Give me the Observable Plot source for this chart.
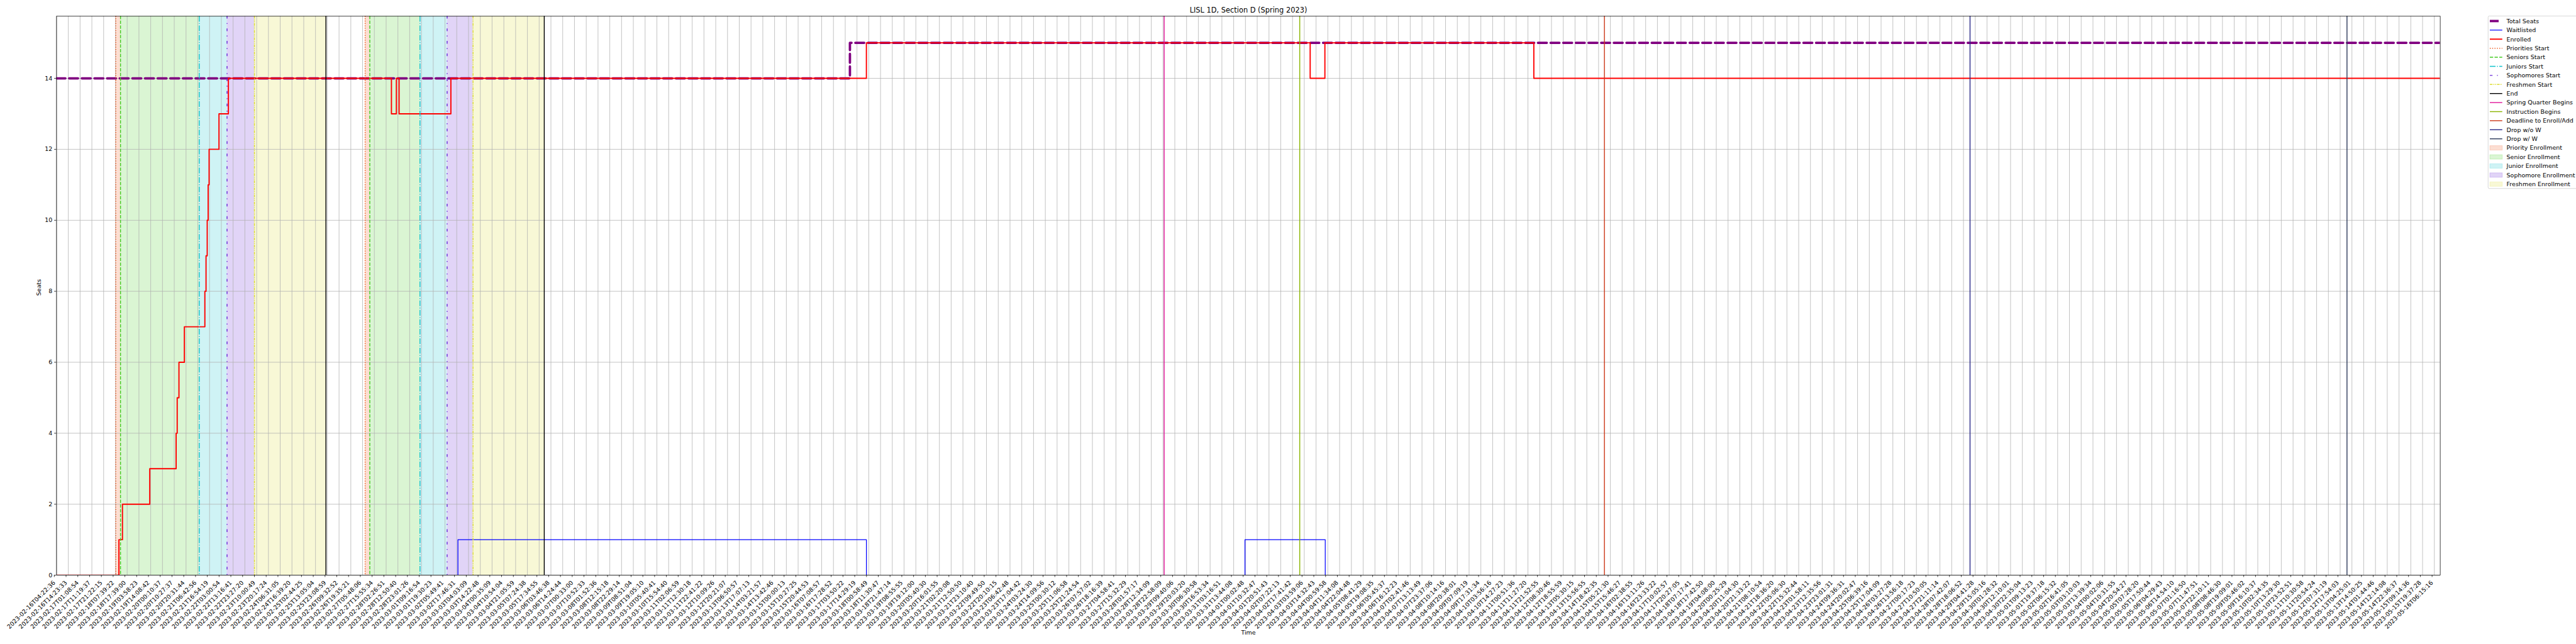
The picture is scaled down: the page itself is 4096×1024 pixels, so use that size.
<!DOCTYPE html>
<html><head><meta charset="utf-8">
<script src="https://cdn.jsdelivr.net/npm/d3@7"></script>
<script src="https://cdn.jsdelivr.net/npm/@observablehq/plot@0.6"></script>
<style>
html,body{margin:0;padding:0;background:#fff;}
#chart{position:relative;width:4096px;height:1024px;overflow:hidden;}
</style></head><body><div id="chart"></div>
<script>
// ---------- DATA ----------
const tickLabels = [
"2023-02-16T04:22:36","2023-02-16T14:23:33","2023-02-17T01:08:54","2023-02-17T11:19:37","2023-02-17T21:22:15",
"2023-02-18T07:39:22","2023-02-18T17:39:00","2023-02-19T03:58:23","2023-02-19T14:08:42","2023-02-20T00:10:37",
"2023-02-20T10:27:37","2023-02-20T20:31:44","2023-02-21T06:42:56","2023-02-21T16:54:19","2023-02-22T03:00:54",
"2023-02-22T13:16:41","2023-02-22T23:27:20","2023-02-23T10:00:49","2023-02-23T20:17:24","2023-02-24T06:31:05",
"2023-02-24T16:39:20","2023-02-25T02:44:25","2023-02-25T13:05:04","2023-02-25T23:08:59","2023-02-26T09:32:52",
"2023-02-26T19:35:21","2023-02-27T05:48:06","2023-02-27T15:55:34","2023-02-28T02:26:51","2023-02-28T12:50:40",
"2023-02-28T23:01:26","2023-03-01T09:16:54","2023-03-01T19:30:23","2023-03-02T05:49:41","2023-03-02T17:46:31",
"2023-03-03T04:03:09","2023-03-03T14:22:48","2023-03-04T00:35:09","2023-03-04T10:54:04","2023-03-04T21:05:59",
"2023-03-05T07:24:38","2023-03-05T17:34:55","2023-03-06T03:46:38","2023-03-06T14:24:44","2023-03-07T00:33:00",
"2023-03-07T10:52:33","2023-03-08T01:52:36","2023-03-08T12:15:18","2023-03-08T22:29:14","2023-03-09T08:51:04",
"2023-03-09T19:05:10","2023-03-10T05:40:41","2023-03-10T15:54:40","2023-03-11T02:06:59","2023-03-11T12:30:18",
"2023-03-11T22:41:22","2023-03-12T10:09:26","2023-03-12T20:21:07","2023-03-13T06:50:57","2023-03-13T17:07:13",
"2023-03-14T03:21:57","2023-03-14T13:42:46","2023-03-15T00:00:13","2023-03-15T10:27:25","2023-03-15T20:44:53",
"2023-03-16T07:08:57","2023-03-16T17:28:52","2023-03-17T03:50:22","2023-03-17T14:29:19","2023-03-18T00:58:49",
"2023-03-18T11:30:47","2023-03-18T21:47:14","2023-03-19T08:55:55","2023-03-19T19:12:00","2023-03-20T05:40:30",
"2023-03-20T16:01:55","2023-03-21T02:20:08","2023-03-21T12:50:50","2023-03-21T23:10:40","2023-03-22T09:49:50",
"2023-03-22T20:10:15","2023-03-23T06:42:48","2023-03-23T17:04:42","2023-03-24T03:24:30","2023-03-24T14:09:56",
"2023-03-25T00:30:12","2023-03-25T11:06:58","2023-03-25T21:24:54","2023-03-26T07:57:02","2023-03-26T18:16:39",
"2023-03-27T04:58:41","2023-03-27T15:32:29","2023-03-28T01:57:17","2023-03-28T12:34:09","2023-03-28T22:58:09",
"2023-03-29T09:40:06","2023-03-29T20:03:20","2023-03-30T06:30:58","2023-03-30T16:53:34","2023-03-31T03:16:51",
"2023-03-31T13:44:08","2023-04-01T00:02:48","2023-04-01T10:32:47","2023-04-01T20:51:43","2023-04-02T07:22:13",
"2023-04-02T17:41:42","2023-04-03T03:59:06","2023-04-03T14:32:43","2023-04-04T00:59:58","2023-04-04T11:34:08",
"2023-04-04T22:04:48","2023-04-05T08:41:29","2023-04-05T19:08:35","2023-04-06T05:45:37","2023-04-06T16:12:23",
"2023-04-07T02:41:46","2023-04-07T13:13:49","2023-04-07T23:37:06","2023-04-08T10:14:16","2023-04-08T20:38:01",
"2023-04-09T07:09:19","2023-04-09T17:31:34","2023-04-10T03:56:16","2023-04-10T14:27:23","2023-04-11T00:51:36",
"2023-04-11T11:27:20","2023-04-11T21:52:55","2023-04-12T08:30:46","2023-04-12T18:55:59","2023-04-13T05:30:15",
"2023-04-13T15:56:55","2023-04-14T18:42:35","2023-04-15T05:21:30","2023-04-15T15:46:27","2023-04-16T02:38:55",
"2023-04-16T13:11:26","2023-04-16T23:33:22","2023-04-17T10:02:57","2023-04-17T20:27:05","2023-04-18T07:17:41",
"2023-04-18T17:42:50","2023-04-19T04:08:00","2023-04-20T00:25:29","2023-04-20T11:04:30","2023-04-20T21:33:22",
"2023-04-21T08:10:54","2023-04-21T18:36:20","2023-04-22T05:06:30","2023-04-22T15:32:44","2023-04-23T01:58:11",
"2023-04-23T12:35:56","2023-04-23T23:01:31","2023-04-24T09:36:31","2023-04-24T20:02:47","2023-04-25T06:39:16",
"2023-04-25T17:04:09","2023-04-26T03:27:28","2023-04-26T13:56:18","2023-04-27T00:17:23","2023-04-27T10:50:05",
"2023-04-27T21:11:14","2023-04-28T07:42:07","2023-04-28T18:06:52","2023-04-29T04:41:28","2023-04-29T15:05:16",
"2023-04-30T01:28:32","2023-04-30T12:10:01","2023-04-30T22:35:04","2023-05-01T09:13:23","2023-05-01T19:37:18",
"2023-05-02T06:15:32","2023-05-02T16:41:05","2023-05-03T03:10:03","2023-05-03T13:39:34","2023-05-04T00:02:06",
"2023-05-04T10:31:55","2023-05-04T20:54:27","2023-05-05T07:28:20","2023-05-05T17:50:44","2023-05-06T04:29:43",
"2023-05-06T14:54:10","2023-05-07T01:16:50","2023-05-07T11:47:51","2023-05-07T22:10:11","2023-05-08T08:46:30",
"2023-05-08T19:09:01","2023-05-09T05:46:02","2023-05-09T16:10:37","2023-05-10T02:34:35","2023-05-10T13:29:30",
"2023-05-10T23:52:51","2023-05-11T10:30:58","2023-05-11T20:54:24","2023-05-12T07:31:19","2023-05-12T17:54:03",
"2023-05-13T04:25:01","2023-05-13T14:50:25","2023-05-14T01:44:46","2023-05-14T12:14:08","2023-05-14T22:36:37",
"2023-05-15T09:14:36","2023-05-15T19:37:28","2023-05-16T06:15:16"
];
const lastSample = 202.5;           // position of the final sample, in tick-index units
const yTicks = [0, 2, 4, 6, 8, 10, 12, 14];
const yMax = 15.75;

// step series: [sample position (tick-index units), value]
const totalSeats = [[0,14],[67.4,15],[202.5,15]];
const waitlisted = [[0,0],[34.1,1],[68.8,0],[100.96,1],[107.78,0],[202.5,0]];
const enrolled = [[0,0],[5.3,1],[5.6,2],[7.92,3],[10.16,4],[10.25,5],[10.4,6],[10.86,7],
  [12.6,8],[12.7,9],[12.8,10],[12.88,11],[12.96,12],[13.8,13],[14.6,14],
  [28.45,13],[28.87,14],[29.1,13],[33.5,14],[68.8,15],[106.5,14],[107.75,15],[125.5,14],[202.5,14]];

// enrollment windows (two passes)
const windowNames = ["Priority","Senior","Junior","Sophomore","Freshmen"];
const windowPass1 = ["2023-02-18T08:00:00","2023-02-18T12:00:00","2023-02-21T08:00:00","2023-02-22T08:00:00","2023-02-23T08:00:00","2023-02-25T22:00:00"];
const windowPass2 = ["2023-02-27T08:00:00","2023-02-27T12:00:00","2023-03-01T08:00:00","2023-03-02T08:00:00","2023-03-03T08:00:00","2023-03-05T22:00:00"];
const calendarNames = ["Spring Quarter Begins","Instruction Begins","Deadline to Enroll/Add","Drop w/o W","Drop w/ W"];
const calendarDates = ["2023-03-29T00:00:00","2023-04-03T00:00:00","2023-04-15T00:00:00","2023-04-29T00:00:00","2023-05-13T00:00:00"];
const chartTitle = "LISL 1D, Section D (Spring 2023)";

// ---------- STYLES ----------
const S = 0.6827;
const pt = 100/72*S;
const mdash = (pat, lw) => pat.map(v => (v*lw*pt).toFixed(2)).join(",");
const styles = {
  "Total Seats": {color:"#800080", lw:4, dash:mdash([3.7,1.6],4)},
  "Waitlisted": {color:"#0000ff", lw:1.3},
  "Enrolled": {color:"#ff0000", lw:2},
  "Priorities Start": {color:"#ee5a1e", lw:1.5, dash:mdash([1,1.65],1.5)},
  "Seniors Start": {color:"#44cc22", lw:1.5, dash:mdash([3.7,1.6],1.5)},
  "Juniors Start": {color:"#11c3cc", lw:1.5, dash:mdash([6.4,1.6,1,1.6],1.5)},
  "Sophomores Start": {color:"#6a2ad8", lw:1.5, dash:mdash([3,5,1,5],1.5)},
  "Freshmen Start": {color:"#dddd33", lw:1.5, dash:mdash([3,1,1,1,1,1],1.5)},
  "End": {color:"#000000", lw:1.5},
  "Spring Quarter Begins": {color:"#e0189a", lw:1.5},
  "Instruction Begins": {color:"#8ab400", lw:1.5},
  "Deadline to Enroll/Add": {color:"#cc3a1a", lw:1.5},
  "Drop w/o W": {color:"#2a2a88", lw:1.5},
  "Drop w/ W": {color:"#2f3d5c", lw:1.5}
};
const startNames = ["Priorities Start","Seniors Start","Juniors Start","Sophomores Start","Freshmen Start"];
const spanColors = {Priority:"#ee5a1e", Senior:"#44cc22", Junior:"#11c3cc", Sophomore:"#6a2ad8", Freshmen:"#dddd33"};

// ---------- helpers ----------
const tickTimes = tickLabels.map(s => Date.parse(s + "Z"));
function posOf(iso) {
  const t = Date.parse(iso + "Z");
  let i = d3.bisectRight(tickTimes, t) - 1;
  i = Math.max(0, Math.min(tickTimes.length - 2, i));
  return i + (t - tickTimes[i]) / (tickTimes[i+1] - tickTimes[i]);
}
const toRows = arr => arr.map(([x, y]) => ({x, y}));

const spans = [];
const startLines = [];
const endLines = [];
for (const pass of [windowPass1, windowPass2]) {
  const p = pass.map(posOf);
  windowNames.forEach((n, i) => {
    spans.push({x1: p[i], x2: p[i+1], fill: spanColors[n]});
    startLines.push({x: p[i], name: startNames[i]});
  });
  endLines.push({x: p[5], name: "End"});
}
const calLines = calendarNames.map((n, i) => ({x: posOf(calendarDates[i]), name: n}));

const ruleFor = (rows, name) => Plot.ruleX(rows.filter(d => d.name === name), {
  x: "x", stroke: styles[name].color, strokeWidth: styles[name].lw * pt,
  strokeDasharray: styles[name].dash || null
});

const W = 4096, H = 1024;
const mL = 89.4, mR = 216.4, mT = 25.3, mB = 109.9;
const xTickIdx = d3.range(tickLabels.length);

const chart = Plot.plot({
  width: W, height: H,
  marginLeft: mL, marginRight: mR, marginTop: mT, marginBottom: mB,
  style: {fontFamily: "DejaVu Sans", fontSize: "9.5px", color: "#000", background: "#fff", overflow: "visible"},
  x: {domain: [0, lastSample]},
  y: {domain: [0, yMax]},
  color: {type: "identity"},
  marks: [
    Plot.rect(spans, {x1: "x1", x2: "x2", fill: "fill", fillOpacity: 0.2}),
    Plot.gridX(xTickIdx, {stroke: "#b0b0b0", strokeOpacity: 1, strokeWidth: 0.8*pt}),
    Plot.gridY(yTicks, {stroke: "#b0b0b0", strokeOpacity: 1, strokeWidth: 0.8*pt}),
    Plot.line(toRows(totalSeats), {x: "x", y: "y", curve: "step-after", stroke: styles["Total Seats"].color,
      strokeWidth: styles["Total Seats"].lw*pt, strokeDasharray: styles["Total Seats"].dash, clip: true}),
    Plot.line(toRows(waitlisted), {x: "x", y: "y", curve: "step-after", stroke: styles["Waitlisted"].color,
      strokeWidth: styles["Waitlisted"].lw*pt, clip: true}),
    Plot.line(toRows(enrolled), {x: "x", y: "y", curve: "step-after", stroke: styles["Enrolled"].color,
      strokeWidth: styles["Enrolled"].lw*pt, clip: true}),
    ...startNames.map(n => ruleFor(startLines, n)),
    ruleFor(endLines, "End"),
    ...calendarNames.map(n => ruleFor(calLines, n)),
    Plot.axisX(xTickIdx, {tickFormat: i => tickLabels[i], tickRotate: -45, tickSize: 3.5*pt, tickPadding: 7.2,
      dx: -3.6, label: null, fontSize: 9.5, stroke: "#000", strokeWidth: 0.8*pt}),
    Plot.axisY(yTicks, {tickFormat: d => String(d), tickSize: 3.5*pt, tickPadding: 3.5*pt, label: null,
      fontSize: 9.5, stroke: "#000", strokeWidth: 0.8*pt}),
    Plot.frame({stroke: "#000", strokeWidth: 0.8*pt}),
    Plot.text(["Seats"], {frameAnchor: "left", rotate: -90, dx: -28, fontSize: 9.5}),
    Plot.text(["Time"], {frameAnchor: "bottom", dy: 94, fontSize: 9.5}),
    Plot.text([chartTitle], {frameAnchor: "top", dy: -6, lineAnchor: "bottom", fontSize: 11.4})
  ]
});
document.getElementById("chart").appendChild(chart);

// ---------- legend (outside the axes, upper right) ----------
const legendItems = [
  ...["Total Seats","Waitlisted","Enrolled",...startNames,"End",...calendarNames].map(n => ({label: n, kind: "line", st: styles[n]})),
  ...windowNames.map(n => ({label: n + " Enrollment", kind: "patch", color: spanColors[n]}))
];
const svg = d3.select(chart.tagName.toLowerCase() === "svg" ? chart : chart.querySelector("svg"));
const lg = svg.append("g").attr("font-family", "DejaVu Sans").attr("font-size", 9.5).attr("text-anchor", "start");
const lx = 5795*S, ly = 37.3*S, rowH = 21.1*S, row0 = 49*S;
lg.append("rect").attr("x", lx).attr("y", ly).attr("width", 260).attr("height", (439-37.3)*S)
  .attr("rx", 2).attr("fill", "#fff").attr("fill-opacity", 0.8).attr("stroke", "#cccccc").attr("stroke-width", 0.8*pt);
legendItems.forEach((it, i) => {
  const cy = row0 + i*rowH;
  const hx1 = 5799*S, hx2 = 5828*S;
  if (it.kind === "line") {
    lg.append("line").attr("x1", hx1).attr("x2", hx2).attr("y1", cy).attr("y2", cy)
      .attr("stroke", it.st.color).attr("stroke-width", it.st.lw*pt)
      .attr("stroke-dasharray", it.st.dash || null);
  } else {
    lg.append("rect").attr("x", hx1).attr("y", cy - 3.5).attr("width", hx2 - hx1).attr("height", 7)
      .attr("fill", it.color).attr("fill-opacity", 0.2).attr("stroke", it.color).attr("stroke-opacity", 0.2).attr("stroke-width", 1);
  }
  lg.append("text").attr("x", 5838*S).attr("y", cy).attr("dy", "0.35em").attr("text-anchor", "start").text(it.label);
});
</script></body></html>
